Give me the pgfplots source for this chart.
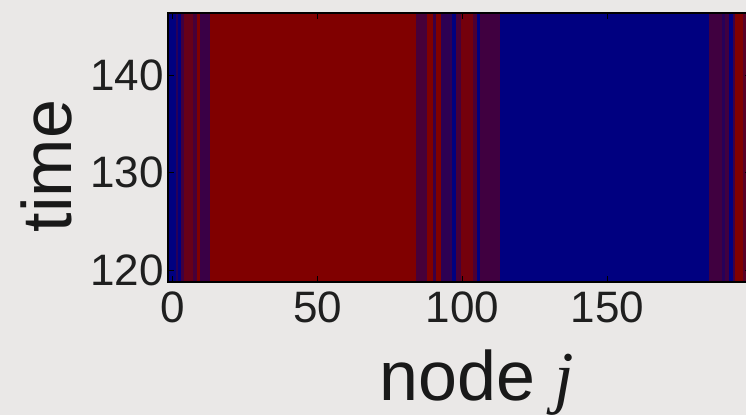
\documentclass[border=0pt]{standalone}
\usepackage{pgfplots}
\pgfplotsset{compat=1.18}
\usepackage{fontspec}
\setmainfont{Liberation Sans}
\newfontfamily\serifit{Liberation Serif}
\definecolor{bgc}{RGB}{234,232,231}
\begin{document}
\begin{tikzpicture}
\fill[bgc] (-168pt,-133pt) rectangle (578pt,282pt);
\begin{scope}
\clip (-168pt,-133pt) rectangle (578pt,282pt);
\begin{axis}[at={(0pt,0pt)}, anchor=south west, scale only axis,
  width=583pt, height=269pt,
  xmin=-1.55, xmax=199.5, ymin=118.8, ymax=146.4,
  axis on top,
  xtick={0,50,100,150}, ytick={120,130,140},
  tick align=inside, major tick length=6pt,
  axis line style={line width=2pt, black},
  every tick/.style={black, line width=1.2pt},
  colormap={br}{rgb255=(0,0,128) rgb255=(128,0,0)},
  point meta min=0, point meta max=1,
  /pgf/number format/assume math mode=true,
  ticklabel style={font=\fontsize{44}{44}\selectfont, text=black!88},
  yticklabel style={inner sep=0pt, xshift=-4pt},
  xticklabel style={inner sep=0pt, yshift=-10pt},
  xlabel={node {\serifit\itshape j}}, ylabel={time},
  every axis x label/.style={at={(axis description cs:0.530,-0.439)}, anchor=base, font=\fontsize{70}{70}\selectfont, text=black!90},
  every axis y label/.style={at={(axis description cs:-0.165,0.431)}, rotate=90, anchor=base, font=\fontsize{70}{70}\selectfont, text=black!90}]
\addplot[surf, shader=flat corner, mesh/cols=29, point meta=explicit] table[meta=c] {
x y c
-1.55 118 0
1.2 118 0.3
2.0 118 0
3.0 118 0.5
4.0 118 0.8
7.0 118 0.55
8.4 118 1
9.5 118 0.45
13 118 1
84 118 0.55
87.8 118 1
89.8 118 0.45
90.9 118 1
92.6 118 0.35
96.4 118 0
97.8 118 0.55
99.5 118 0.9
103.6 118 0.6
105 118 0
106 118 0.5
112.9 118 0
185 118 0.5
189.5 118 0.3
190.5 118 0.5
191.9 118 0
193.3 118 0.5
194 118 1
196.7 118 0.7
199.5 118 0.7
-1.55 147 0
1.2 147 0.3
2.0 147 0
3.0 147 0.5
4.0 147 0.8
7.0 147 0.55
8.4 147 1
9.5 147 0.45
13 147 1
84 147 0.55
87.8 147 1
89.8 147 0.45
90.9 147 1
92.6 147 0.35
96.4 147 0
97.8 147 0.55
99.5 147 0.9
103.6 147 0.6
105 147 0
106 147 0.5
112.9 147 0
185 147 0.5
189.5 147 0.3
190.5 147 0.5
191.9 147 0
193.3 147 0.5
194 147 1
196.7 147 0.7
199.5 147 0.7
};
\end{axis}
\end{scope}
\pgfresetboundingbox
\useasboundingbox (-168pt,-133pt) rectangle (578pt,282pt);
\end{tikzpicture}
\end{document}
